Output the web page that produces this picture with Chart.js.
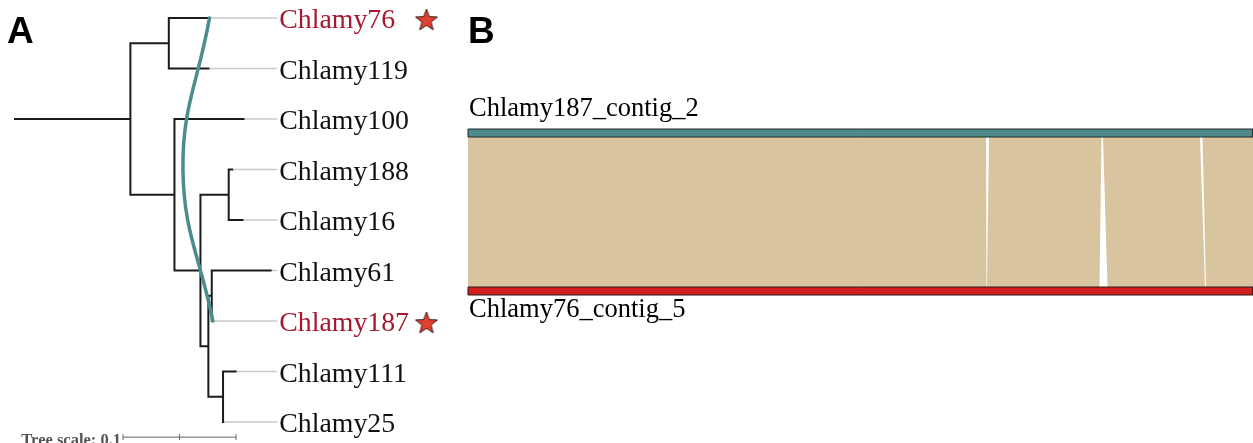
<!DOCTYPE html>
<html>
<head>
<meta charset="utf-8">
<script src="https://cdn.jsdelivr.net/npm/chart.js@4"></script>
<style>
  html, body { margin: 0; padding: 0; background: #fff; width: 1253px; height: 443px; overflow: hidden; }
  #tree { position: absolute; left: 0; top: 0; }
  #synteny { position: absolute; left: 460px; top: 0; }
</style>
</head>
<body>
<canvas id="tree" width="460" height="443"></canvas>
<canvas id="synteny" width="793" height="443"></canvas>
<script>
// ---------- Panel A: phylogeny ----------
// Leaves in display order and their terminal branch lengths (subst./site)
const taxa = ['Chlamy76', 'Chlamy119', 'Chlamy100', 'Chlamy188', 'Chlamy16', 'Chlamy61', 'Chlamy187', 'Chlamy111', 'Chlamy25'];
const taxonBranch = [0.036, 0.036, 0.062, 0.004, 0.013, 0.053, 0.001, 0.012, 0.001];
// Internal nodes, their children and the branch leading to them
const clades = ['c76_119', 'c188_16', 'c61_187', 'c111_25', 'cD', 'cC', 'cB', 'cA'];
const cladeChildren = [
  ['Chlamy76', 'Chlamy119'],
  ['Chlamy188', 'Chlamy16'],
  ['Chlamy61', 'Chlamy187'],
  ['Chlamy111', 'Chlamy25'],
  ['c61_187', 'c111_25'],
  ['c188_16', 'cD'],
  ['Chlamy100', 'cC'],
  ['c76_119', 'cB']
];
const cladeBranch = [0.034, 0.025, 0.003, 0.013, 0.007, 0.023, 0.039, 0.103];
const highlighted = ['Chlamy76', 'Chlamy187'];
const treeScaleUnit = 0.1;

// ---------- Panel B: synteny between two contigs (kb) ----------
const contigNames = ['Chlamy187_contig_2', 'Chlamy76_contig_5'];
const contigLengthKb = [1570, 1570];
const blockTopStart = [0, 1042, 1270, 1469];
const blockTopEnd = [1036, 1267, 1464, 1570];
const blockBottomStart = [0, 1038, 1279, 1476];
const blockBottomEnd = [1037, 1263, 1474, 1570];

// ---------- tree layout ----------
const children = {};
clades.forEach((c, i) => { children[c] = cladeChildren[i]; });
const branch = {};
taxa.forEach((t, i) => { branch[t] = taxonBranch[i]; });
clades.forEach((c, i) => { branch[c] = cladeBranch[i]; });
const depth = {}, row = {};
function layout(node, parentDepth) {
  depth[node] = parentDepth + branch[node];
  const kids = children[node];
  if (kids) {
    kids.forEach(k => layout(k, depth[node]));
    row[node] = (row[kids[0]] + row[kids[kids.length - 1]]) / 2;
  } else {
    row[node] = taxa.indexOf(node);
  }
}
const rootClade = 'cA';
layout(rootClade, 0);

const maxDepth = Math.max(...taxa.map(t => depth[t]));
const alignX = maxDepth + 0.005;      // where leader lines end and labels begin
const starX = alignX + 0.132;         // column of the highlight stars
const LINK_BULGE = -0.025;            // how far the link curve swings left
const scaleBarStart = 0.0965;
const scaleBarRow = 8.3;

// frame of the tree chart: 1130 px per unit of branch length, 50.5 px per row
const PX_PER_UNIT = 1130, ROOT_PX = 14, ROW_PX = 50.5, FIRST_ROW_PX = 18;
const treeW = 460, treeH = 443;

function starImage() {
  const c = document.createElement('canvas');
  c.width = 26; c.height = 26;
  const g = c.getContext('2d');
  const R = 11.5, r = 4.8, cx = 13, cy = 13.5;
  g.beginPath();
  for (let i = 0; i < 10; i++) {
    const rad = i % 2 === 0 ? R : r;
    const ang = -Math.PI / 2 + i * Math.PI / 5;
    const px = cx + rad * Math.cos(ang), py = cy + rad * Math.sin(ang);
    if (i === 0) g.moveTo(px, py); else g.lineTo(px, py);
  }
  g.closePath();
  g.fillStyle = '#e2402f';
  g.fill();
  g.lineWidth = 1;
  g.strokeStyle = '#3a1c1c';
  g.stroke();
  return c;
}

const treeDatasets = [];
// link between the two contig owners
const a = highlighted[0], b = highlighted[1];
treeDatasets.push({
  data: [
    { x: depth[a], y: row[a] },
    { x: (depth[a] + depth[b]) / 2 + LINK_BULGE, y: (row[a] + row[b]) / 2 },
    { x: depth[b], y: row[b] }
  ],
  borderColor: '#4b8d8d', borderWidth: 3.5, tension: 0.42, borderCapStyle: 'round'
});
// highlight stars
treeDatasets.push({
  data: highlighted.map(t => ({ x: starX, y: row[t] + 0.04 })),
  showLine: false, pointStyle: starImage(), pointRadius: 11
});
// elbows of each internal node
clades.forEach(c => {
  const kids = children[c];
  const k0 = kids[0], k1 = kids[kids.length - 1];
  treeDatasets.push({
    data: [
      { x: depth[k0], y: row[k0] },
      { x: depth[c], y: row[k0] },
      { x: depth[c], y: row[k1] },
      { x: depth[k1], y: row[k1] }
    ],
    borderColor: '#1b1b1b', borderWidth: 2, borderJoinStyle: 'miter'
  });
});
// root stub
treeDatasets.push({
  data: [{ x: 0, y: row[rootClade] }, { x: depth[rootClade], y: row[rootClade] }],
  borderColor: '#1b1b1b', borderWidth: 2
});
// scale bar
treeDatasets.push({
  data: [0, 0.5, 1].map(f => ({ x: scaleBarStart + f * treeScaleUnit, y: scaleBarRow })),
  borderColor: '#666', borderWidth: 1, pointStyle: 'line', rotation: 90,
  pointRadius: 3, pointBorderColor: '#666', pointBorderWidth: 1
});
// leader lines
taxa.forEach(t => {
  treeDatasets.push({
    data: [{ x: depth[t], y: row[t] }, { x: alignX, y: row[t] }],
    borderColor: '#c9c9c9', borderWidth: 1.5
  });
});

const treeText = {
  id: 'treeText',
  afterDatasetsDraw(chart) {
    const { ctx, scales: { x, y } } = chart;
    ctx.save();
    ctx.textAlign = 'left';
    ctx.textBaseline = 'alphabetic';
    ctx.font = '27.8px "Liberation Serif", "Times New Roman", serif';
    const lx = x.getPixelForValue(alignX) + 2;
    taxa.forEach(t => {
      ctx.fillStyle = highlighted.includes(t) ? '#a6182f' : '#111';
      ctx.fillText(t, lx, y.getPixelForValue(row[t]) + 10);
    });
    ctx.fillStyle = '#000';
    ctx.font = 'bold 37px "Liberation Sans", Arial, sans-serif';
    ctx.fillText('A', 7, 43);
    ctx.fillStyle = '#555';
    ctx.font = 'bold 16.5px "Liberation Serif", "Times New Roman", serif';
    ctx.textAlign = 'right';
    ctx.fillText('Tree scale: ' + treeScaleUnit, x.getPixelForValue(scaleBarStart) - 2, 445);
    ctx.restore();
  }
};

new Chart(document.getElementById('tree'), {
  type: 'scatter',
  data: {
    datasets: treeDatasets.map(d => Object.assign({ showLine: true, pointRadius: 0, clip: false, fill: false }, d))
  },
  options: {
    responsive: false, animation: false, events: [],
    layout: { padding: 0, autoPadding: false },
    plugins: { legend: { display: false }, tooltip: { enabled: false } },
    scales: {
      x: { type: 'linear', display: false, min: -ROOT_PX / PX_PER_UNIT, max: (treeW - ROOT_PX) / PX_PER_UNIT },
      y: { type: 'linear', display: false, reverse: true, min: -FIRST_ROW_PX / ROW_PX, max: (treeH - FIRST_ROW_PX) / ROW_PX }
    }
  },
  plugins: [treeText]
});

// ---------- synteny chart ----------
const BAR_H = 8 / 166;   // contig bar thickness as a fraction of the panel height
const topY = 1, botY = 0;
const synDatasets = [];
// contig bars
synDatasets.push({
  data: [
    { x: 0, y: topY }, { x: contigLengthKb[0], y: topY },
    { x: contigLengthKb[0], y: topY - BAR_H }, { x: 0, y: topY - BAR_H }, { x: 0, y: topY }
  ],
  backgroundColor: '#4f8989', borderColor: '#1f2a2a', borderWidth: 1, fill: 'shape'
});
synDatasets.push({
  data: [
    { x: 0, y: botY + BAR_H }, { x: contigLengthKb[1], y: botY + BAR_H },
    { x: contigLengthKb[1], y: botY }, { x: 0, y: botY }, { x: 0, y: botY + BAR_H }
  ],
  backgroundColor: '#d11f1d', borderColor: '#2a1a1a', borderWidth: 1, fill: 'shape'
});
// collinear blocks
blockTopStart.forEach((s, i) => {
  synDatasets.push({
    data: [
      { x: s, y: topY - BAR_H }, { x: blockTopEnd[i], y: topY - BAR_H },
      { x: blockBottomEnd[i], y: botY + BAR_H }, { x: blockBottomStart[i], y: botY + BAR_H },
      { x: s, y: topY - BAR_H }
    ],
    backgroundColor: '#d8c49f', borderColor: 'rgba(0,0,0,0)', borderWidth: 0.01, fill: 'shape'
  });
});

const synText = {
  id: 'synText',
  afterDatasetsDraw(chart) {
    const { ctx, scales: { x, y } } = chart;
    ctx.save();
    ctx.fillStyle = '#000';
    ctx.textAlign = 'left';
    ctx.textBaseline = 'alphabetic';
    ctx.font = 'bold 37px "Liberation Sans", Arial, sans-serif';
    ctx.fillText('B', 8, 43);
    ctx.font = '26.5px "Liberation Serif", "Times New Roman", serif';
    ctx.fillText(contigNames[0], x.getPixelForValue(0) + 1, y.getPixelForValue(topY) - 13);
    ctx.fillText(contigNames[1], x.getPixelForValue(0) + 1, y.getPixelForValue(botY) + 22);
    ctx.restore();
  }
};

new Chart(document.getElementById('synteny'), {
  type: 'scatter',
  data: {
    datasets: synDatasets.map(d => Object.assign({ showLine: true, pointRadius: 0, clip: false, tension: 0 }, d))
  },
  options: {
    responsive: false, animation: false, events: [],
    layout: { padding: { left: 8, right: 0, top: 129, bottom: 148 }, autoPadding: false },
    plugins: { legend: { display: false }, tooltip: { enabled: false } },
    scales: {
      x: { type: 'linear', display: false, min: 0, max: Math.max(...contigLengthKb) },
      y: { type: 'linear', display: false, min: 0, max: 1 }
    }
  },
  plugins: [synText]
});
</script>
</body>
</html>
